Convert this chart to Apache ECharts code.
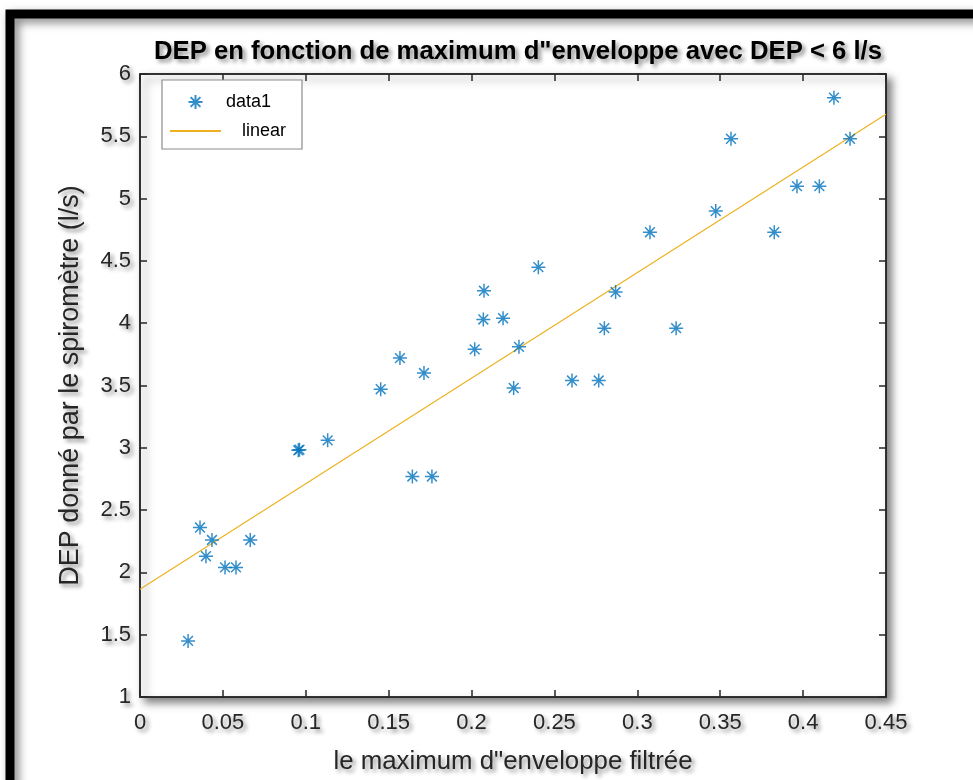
<!DOCTYPE html>
<html>
<head>
<meta charset="utf-8">
<script src="https://cdn.jsdelivr.net/npm/echarts@6/dist/echarts.min.js"></script>
<style>
  html, body { margin: 0; padding: 0; background: #fff; }
  #chart { width: 973px; height: 780px; }
</style>
</head>
<body>
<div id="chart"></div>
<script>
// Peak of the filtered envelope vs. spirometer PEF (DEP < 6 l/s)
const envelopeMax = [
  0.0290, 0.0362, 0.0398, 0.0434, 0.0513, 0.0579, 0.0665,
  0.0955, 0.0962, 0.1132, 0.1452, 0.1568, 0.1713, 0.1643, 0.1761,
  0.2019, 0.2071, 0.2075, 0.2190, 0.2254, 0.2286, 0.2403,
  0.2606, 0.2767, 0.2801, 0.2869, 0.3076, 0.3234, 0.3473,
  0.3565, 0.3826, 0.3963, 0.4098, 0.4186, 0.4283
];
const depValues = [
  1.45, 2.36, 2.13, 2.26, 2.04, 2.04, 2.26,
  2.98, 2.985, 3.06, 3.47, 3.72, 3.60, 2.77, 2.77,
  3.79, 4.03, 4.26, 4.04, 3.48, 3.81, 4.45,
  3.54, 3.54, 3.96, 4.25, 4.73, 3.96, 4.90,
  5.48, 4.73, 5.10, 5.10, 5.81, 5.48
];
// Linear fit, evaluated at both ends of the x range
const fitX = [0, 0.45];
const fitY = [1.864, 5.677];

const xTickLabels = ['0', '0.05', '0.1', '0.15', '0.2', '0.25', '0.3', '0.35', '0.4', '0.45'];
const yTickLabels = ['1', '1.5', '2', '2.5', '3', '3.5', '4', '4.5', '5', '5.5', '6'];

const blue = '#0072BD';
const orange = '#EDB120';
const axisColor = '#262626';
const font = 'Liberation Sans, Arial, Helvetica, sans-serif';
const shadowText = {
  textShadowColor: 'rgba(0,0,0,0.45)',
  textShadowBlur: 4,
  textShadowOffsetX: 3,
  textShadowOffsetY: 3
};
const asterisk = 'path://M0,-1L0,1M-1,0L1,0M-0.7,-0.7L0.7,0.7M-0.7,0.7L0.7,-0.7';

const points = envelopeMax.map((x, i) => [x, depValues[i]]);
const fitLine = fitX.map((x, i) => [x, fitY[i]]);

const xLabel = v => xTickLabels[Math.round(v / 0.05)];
const yLabel = v => yTickLabels[Math.round((v - 1) / 0.5)];

const chart = echarts.init(document.getElementById('chart'), null, { renderer: 'canvas' });

const baseX = {
  type: 'value', min: 0, max: 0.45, interval: 0.05,
  axisLine: { show: true, onZero: false, lineStyle: { color: axisColor, width: 1.5 } },
  axisTick: { show: true, inside: true, length: 7, lineStyle: { color: axisColor, width: 1.5 } },
  splitLine: { show: false }
};
const baseY = {
  type: 'value', min: 1, max: 6, interval: 0.5,
  axisLine: { show: true, onZero: false, lineStyle: { color: axisColor, width: 1.5 } },
  axisTick: { show: true, inside: true, length: 7, lineStyle: { color: axisColor, width: 1.5 } },
  splitLine: { show: false }
};

chart.setOption({
  animation: false,
  backgroundColor: '#fff',
  graphic: [
    {
      type: 'rect', z: -10, silent: true,
      shape: { x: 10, y: 14, width: 1000, height: 800 },
      style: {
        fill: 'none', stroke: '#000', lineWidth: 9,
        shadowColor: 'rgba(0,0,0,0.5)', shadowBlur: 10,
        shadowOffsetX: 4, shadowOffsetY: 4
      }
    },
    {
      type: 'rect', z: 50, silent: true,
      shape: { x: 162, y: 80, width: 140, height: 69 },
      style: { fill: '#fff', stroke: '#8c8c8c', lineWidth: 1.2 }
    }
  ],
  title: {
    text: 'DEP en fonction de maximum d"enveloppe avec DEP < 6 l/s',
    left: 513, top: 34, textAlign: 'center',
    textStyle: Object.assign({
      fontFamily: font, fontSize: 25.7, fontWeight: 'bold', color: '#000'
    }, shadowText)
  },
  legend: {
    z: 60,
    left: 164, top: 88,
    orient: 'vertical',
    itemWidth: 51, itemHeight: 14, itemGap: 11,
    data: ['data1', { name: 'linear', itemStyle: { opacity: 0 } }],
    formatter: name => name === 'linear' ? '{r|' + name + '}' : '{l|' + name + '}',
    textStyle: {
      fontFamily: font, fontSize: 18, color: '#000',
      rich: {
        l: { fontFamily: font, fontSize: 18, color: '#000', padding: [0, 0, 0, 0] },
        r: { fontFamily: font, fontSize: 18, color: '#000', padding: [0, 0, 0, 16] }
      }
    }
  },
  grid: {
    left: 140, top: 74, right: 87, bottom: 83,
    show: true, backgroundColor: '#fff',
    borderColor: axisColor, borderWidth: 1.5,
    shadowColor: 'rgba(0,0,0,0.5)', shadowBlur: 8,
    shadowOffsetX: 5, shadowOffsetY: 5
  },
  xAxis: [
    Object.assign({}, baseX, {
      position: 'bottom',
      name: 'le maximum d"enveloppe filtrée',
      nameLocation: 'middle', nameGap: 52,
      nameTextStyle: Object.assign({ fontFamily: font, fontSize: 25.8, color: axisColor }, shadowText),
      axisLabel: Object.assign({
        fontFamily: font, fontSize: 22, color: axisColor, margin: 15, formatter: xLabel
      }, shadowText)
    }),
    Object.assign({}, baseX, { position: 'top', axisLabel: { show: false } })
  ],
  yAxis: [
    Object.assign({}, baseY, {
      position: 'left',
      name: 'DEP donné par le spiromètre (l/s)',
      nameLocation: 'middle', nameGap: 56,
      nameTextStyle: Object.assign({ fontFamily: font, fontSize: 27, color: axisColor }, shadowText),
      axisLabel: Object.assign({
        fontFamily: font, fontSize: 22, color: axisColor, margin: 9, formatter: yLabel
      }, shadowText)
    }),
    Object.assign({}, baseY, { position: 'right', axisLabel: { show: false } })
  ],
  series: [
    {
      name: 'data1',
      type: 'scatter',
      xAxisIndex: 0, yAxisIndex: 0,
      symbol: asterisk,
      symbolSize: 14,
      symbolKeepAspect: true,
      itemStyle: { color: blue, borderColor: blue, borderWidth: 1.5 },
      data: points,
      z: 3
    },
    {
      name: 'linear',
      type: 'line',
      xAxisIndex: 0, yAxisIndex: 0,
      symbol: 'none',
      lineStyle: { color: orange, width: 1.2 },
      itemStyle: { color: orange },
      data: fitLine,
      z: 2
    }
  ]
});
</script>
</body>
</html>
